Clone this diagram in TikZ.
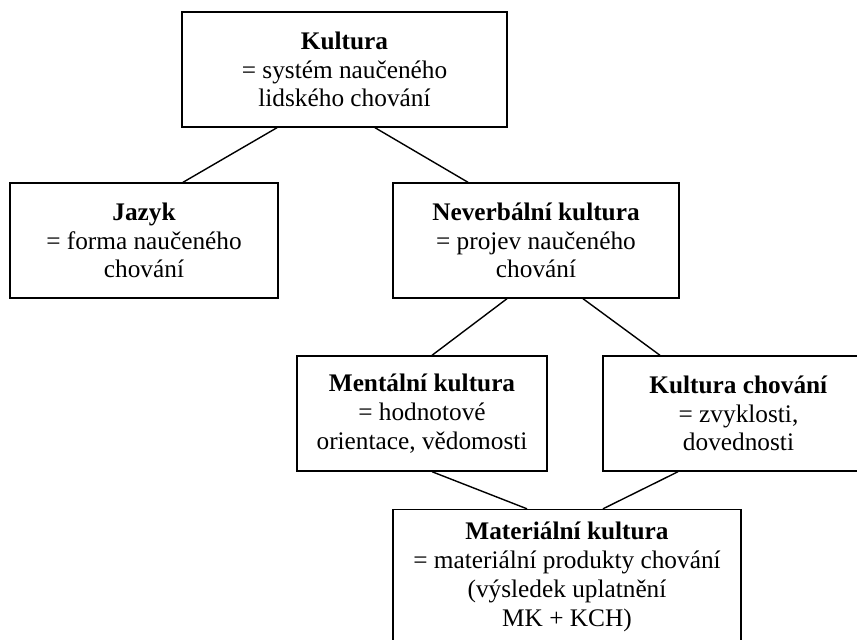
\documentclass[tikz,border=0pt]{standalone}
\usepackage{fontspec}
\setmainfont{Liberation Serif}

\begin{document}
\begin{tikzpicture}[
    x=0.02cm, y=-0.02cm,
    pojem/.style = {draw, line width=0.8pt, align=center, inner sep=2pt,
        font=\fontsize{14.4}{16.4}\selectfont},
    spoj/.style = {line width=0.8pt}
]

% Rozmery obrazku
\useasboundingbox (0,0) rectangle (857,639);

% --- POJMY ---
\node[pojem, minimum width=6.5cm, minimum height=2.3cm] (kult) at (344.5, 69.5)
    {\textbf{Kultura}\\ = systém naučeného\\ lidského chování};

\node[pojem, minimum width=5.36cm, minimum height=2.3cm] (jaz) at (144, 240.5)
    {\textbf{Jazyk}\\ = forma naučeného\\ chování};

\node[pojem, minimum width=5.72cm, minimum height=2.3cm] (nev) at (536, 240.5)
    {\textbf{Neverbální kultura}\\ = projev naučeného\\ chování};

\node[pojem, minimum width=5.0cm, minimum height=2.3cm] (ment) at (422, 413.5)
    {\textbf{Mentální kultura}\\ = hodnotové\\ orientace, vědomosti};

% pravy okraj lezi mimo obrazek
\node[pojem, minimum width=5.42cm, minimum height=2.3cm] (kch) at (738.5, 413.5)
    {\textbf{Kultura chování}\\ = zvyklosti,\\ dovednosti};

\node[pojem, minimum width=6.96cm, minimum height=2.7cm] (mat) at (567, 577)
    {\textbf{Materiální kultura}\\ = materiální produkty chování\\ (výsledek uplatnění\\ MK + KCH)};

% --- SPOJNICE ---
\draw[spoj] ([xshift=-1.35cm]kult.south) -- ([xshift=0.78cm]jaz.north);
\draw[spoj] ([xshift=0.61cm]kult.south) -- ([xshift=-1.36cm]nev.north);
\draw[spoj] ([xshift=-0.58cm]nev.south) -- ([xshift=0.2cm]ment.north);
\draw[spoj] ([xshift=0.94cm]nev.south) -- ([xshift=-1.57cm]kch.north);
\draw[spoj] ([xshift=0.2cm]ment.south) -- ([xshift=-0.8cm]mat.north);
\draw[spoj] ([xshift=-1.21cm]kch.south) -- ([xshift=0.72cm]mat.north);

\end{tikzpicture}
\end{document}
